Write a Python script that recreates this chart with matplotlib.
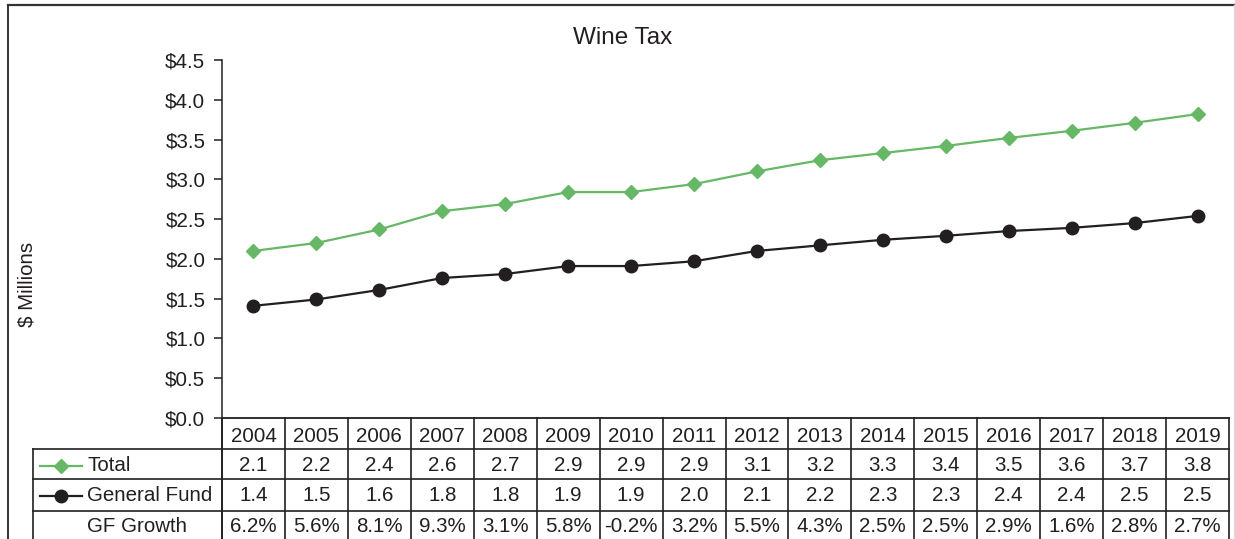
import matplotlib
matplotlib.use("Agg")
import matplotlib.pyplot as plt
from matplotlib.lines import Line2D
import matplotlib.transforms as mtransforms

plt.rcParams['font.family'] = ['Liberation Sans', 'DejaVu Sans']

years = ['2004', '2005', '2006', '2007', '2008', '2009', '2010', '2011',
         '2012', '2013', '2014', '2015', '2016', '2017', '2018', '2019']
total = [2.10, 2.20, 2.37, 2.60, 2.69, 2.84, 2.84, 2.94,
         3.10, 3.24, 3.33, 3.42, 3.52, 3.61, 3.71, 3.82]
general_fund = [1.41, 1.49, 1.61, 1.76, 1.81, 1.91, 1.91, 1.97,
                2.10, 2.17, 2.24, 2.29, 2.35, 2.39, 2.45, 2.54]
total_labels = ['2.1', '2.2', '2.4', '2.6', '2.7', '2.9', '2.9', '2.9',
                '3.1', '3.2', '3.3', '3.4', '3.5', '3.6', '3.7', '3.8']
gf_labels = ['1.4', '1.5', '1.6', '1.8', '1.8', '1.9', '1.9', '2.0',
             '2.1', '2.2', '2.3', '2.3', '2.4', '2.4', '2.5', '2.5']
growth_labels = ['6.2%', '5.6%', '8.1%', '9.3%', '3.1%', '5.8%', '-0.2%', '3.2%',
                 '5.5%', '4.3%', '2.5%', '2.5%', '2.9%', '1.6%', '2.8%', '2.7%']
yticks = [0.0, 0.5, 1.0, 1.5, 2.0, 2.5, 3.0, 3.5, 4.0, 4.5]

TXT = '#231f20'
GREEN = '#66b866'
BLACK = '#231f20'
FS = 14.8

W, H = 1235, 539
fig = plt.figure(figsize=(W / 100, H / 100), dpi=100)

def fx(px):
    return px / W

def fy(py):
    return 1 - py / H

ax_l, ax_r, ax_t, ax_b = 222, 1229, 60, 418
ax = fig.add_axes([fx(ax_l), fy(ax_b), fx(ax_r - ax_l), (ax_b - ax_t) / H])

x = list(range(len(years)))
ax.plot(x, total, color=GREEN, lw=1.6, marker='D', ms=7.5, mec=GREEN, mfc=GREEN, zorder=3)
ax.plot(x, general_fund, color=BLACK, lw=1.6, marker='o', ms=9, mec=BLACK, mfc=BLACK, zorder=3)

ax.set_xlim(-0.5, len(years) - 0.5)
ax.set_ylim(0, 4.5)
ax.set_yticks(yticks)
ax.set_yticklabels(['$%.1f' % v for v in yticks])
ax.tick_params(axis='y', direction='out', length=6, width=1.1, color=TXT,
               labelsize=FS, labelcolor=TXT, pad=6)
ax.set_xticks([])
for s in ['top', 'right']:
    ax.spines[s].set_visible(False)
ax.spines['left'].set_color(TXT)
ax.spines['left'].set_linewidth(1.1)
ax.spines['bottom'].set_color(TXT)
ax.spines['bottom'].set_linewidth(1.3)

# Data table below the axes (x in data, y in axes coords)
trans = mtransforms.blended_transform_factory(ax.transData, ax.transAxes)
span = ax_b - ax_t

def ay(py):
    return (ax_b - py) / span

row_edges = [418, 449, 479, 511, 560]
lw_t = 1.2
n = len(years)
label_left = -3.5

def hline(x0, x1, py):
    ax.add_line(Line2D([x0, x1], [ay(py), ay(py)], transform=trans, color=TXT,
                       lw=lw_t, clip_on=False))

def vline(xx, py0, py1):
    ax.add_line(Line2D([xx, xx], [ay(py0), ay(py1)], transform=trans, color=TXT,
                       lw=lw_t, clip_on=False))

for i in range(n + 1):
    vline(i - 0.5, 418, 560)
for py in row_edges[1:4]:
    hline(label_left, n - 0.5, py)
vline(label_left, 449, 560)
vline(-0.5, 418, 560)

header_y = ay(436)
row_ys = [ay(465.5), ay(495.5), ay(527)]
for i, yr in enumerate(years):
    ax.text(i, header_y, yr, transform=trans, ha='center', va='center',
            fontsize=FS, color=TXT, clip_on=False)
for j, labels in enumerate([total_labels, gf_labels, growth_labels]):
    for i, lab in enumerate(labels):
        ax.text(i, row_ys[j], lab, transform=trans, ha='center', va='center',
                fontsize=FS, color=TXT, clip_on=False)

# row labels with legend keys
key_x0, key_x1, key_xm, txt_x = -3.39, -2.72, -3.06, -2.64
ax.add_line(Line2D([key_x0, key_x1], [row_ys[0], row_ys[0]], transform=trans,
                   color=GREEN, lw=1.6, clip_on=False))
ax.add_line(Line2D([key_xm], [row_ys[0]], transform=trans, color=GREEN, marker='D',
                   ms=7.5, clip_on=False, ls='none'))
ax.add_line(Line2D([key_x0, key_x1], [row_ys[1], row_ys[1]], transform=trans,
                   color=BLACK, lw=1.6, clip_on=False))
ax.add_line(Line2D([key_xm], [row_ys[1]], transform=trans, color=BLACK, marker='o',
                   ms=9, clip_on=False, ls='none'))
for j, name in enumerate(['Total', 'General Fund', 'GF Growth']):
    ax.text(txt_x, row_ys[j], name, transform=trans, ha='left', va='center',
            fontsize=FS, color=TXT, clip_on=False)

# Title and y label
fig.text(fx(623), fy(38), 'Wine Tax', ha='center', va='center', fontsize=17.5, color=TXT)
fig.text(fx(27), fy(284), '$ Millions', ha='center', va='center', rotation=90,
         fontsize=FS, color=TXT)

# Outer frame
fig.add_artist(Line2D([fx(8), fx(8)], [fy(5), 0], color='#333333', lw=1.4))
fig.add_artist(Line2D([fx(8), fx(1234)], [fy(5), fy(5)], color='#333333', lw=1.6))
fig.add_artist(Line2D([fx(1233.5), fx(1233.5)], [fy(5), 0], color='#dddddd', lw=1.0))

fig.savefig('out.png', dpi=100)
